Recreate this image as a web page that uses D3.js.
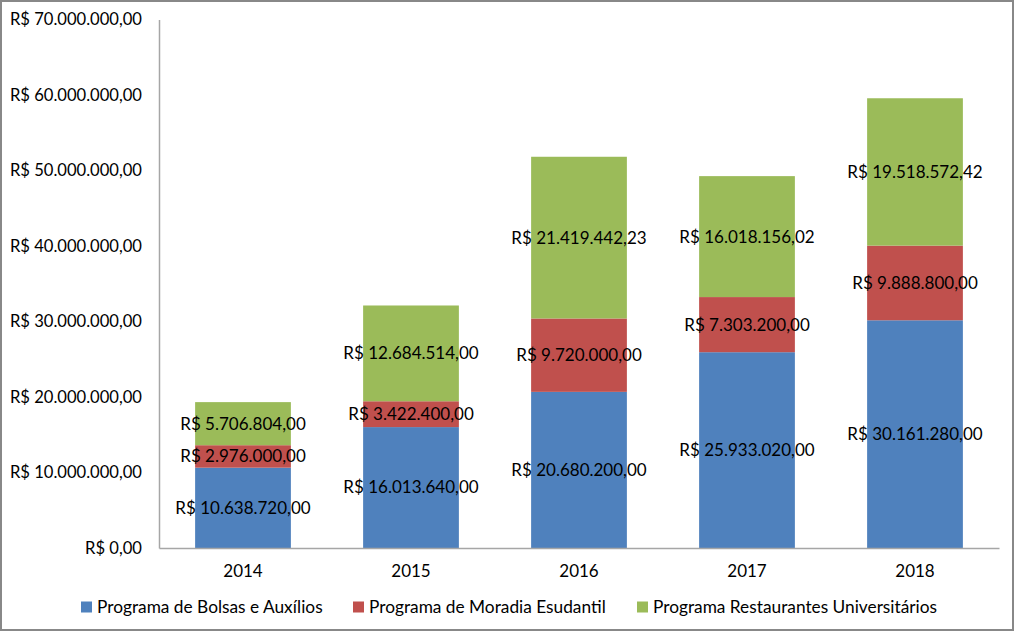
<!DOCTYPE html>
<html>
<head>
<meta charset="utf-8">
<script src="https://cdn.jsdelivr.net/npm/d3@7"></script>
<style>
html,body{margin:0;padding:0;background:#fff;}
svg{display:block;}
text{font-family:Lato,"Open Sans",sans-serif;fill:#000;}
</style>
</head>
<body>
<svg id="chart" width="1014" height="631"></svg>
<script>
const years = ["2014","2015","2016","2017","2018"];
const seriesNames = ["Programa de Bolsas e Auxílios","Programa de Moradia Esudantil","Programa Restaurantes Universitários"];
const bolsas = [10638720.00, 16013640.00, 20680200.00, 25933020.00, 30161280.00];
const moradia = [2976000.00, 3422400.00, 9720000.00, 7303200.00, 9888800.00];
const restaurantes = [5706804.00, 12684514.00, 21419442.23, 16018156.02, 19518572.42];
const yTicks = [0,10000000,20000000,30000000,40000000,50000000,60000000,70000000];
const colors = ["#4F81BD","#C0504D","#9BBB59"];

const fmt = v => {
  const parts = v.toFixed(2).split(".");
  const int = parts[0].replace(/\B(?=(\d{3})+(?!\d))/g, ".");
  return "R$ " + int + "," + parts[1];
};

const svg = d3.select("#chart");
const W = 1014, H = 631;
svg.append("rect").attr("x",1).attr("y",1).attr("width",W-2).attr("height",H-2)
  .attr("fill","#fff").attr("stroke","#888").attr("stroke-width",2);

const pLeft = 159, pRight = 999, pTop = 19.5, pBottom = 548;
const x = d3.scaleBand().domain(years).range([pLeft,pRight]).paddingInner(0.43).paddingOuter(0.215);
const y = d3.scaleLinear().domain([0,70000000]).range([pBottom,pTop]);

const table = years.map((yr,i)=>({year:yr, b:bolsas[i], m:moradia[i], r:restaurantes[i]}));
const stack = d3.stack().keys(["b","m","r"])(table);

const g = svg.append("g");
stack.forEach((layer,li)=>{
  g.selectAll(null).data(layer).enter().append("rect")
    .attr("x",d=>x(d.data.year))
    .attr("width",x.bandwidth())
    .attr("y",d=>y(d[1]))
    .attr("height",d=>y(d[0])-y(d[1]))
    .attr("fill",colors[li]);
});

// axes
const yAxis = d3.axisLeft(y).tickValues(yTicks).tickSize(0).tickPadding(17).tickFormat(fmt);
const ya = svg.append("g").attr("transform",`translate(${pLeft},0)`).call(yAxis);
ya.select(".domain").attr("stroke","#a6a6a6").attr("stroke-width",1.5);
ya.selectAll("text").attr("font-size",16.6).attr("font-family","Lato,sans-serif");

const xAxis = d3.axisBottom(x).tickSize(0).tickPadding(17);
const xa = svg.append("g").attr("transform",`translate(0,${pBottom})`).call(xAxis);
xa.select(".domain").attr("stroke","#a6a6a6").attr("stroke-width",1.5);
xa.selectAll("text").attr("font-size",17).attr("font-family","Lato,sans-serif");

// labels
stack.forEach((layer,li)=>{
  g.selectAll(null).data(layer).enter().append("text")
    .attr("x",d=>x(d.data.year)+x.bandwidth()/2)
    .attr("y",d=>(y(d[0])+y(d[1]))/2)
    .attr("dy","0.35em")
    .attr("text-anchor","middle")
    .attr("font-size",17)
    .text(d=>fmt(d[1]-d[0]));
});

// legend
const legendX = [81, 353, 637];
const lg = svg.append("g");
seriesNames.forEach((n,i)=>{
  lg.append("rect").attr("x",legendX[i]).attr("y",601.5).attr("width",11).attr("height",11).attr("fill",colors[i]);
  lg.append("text").attr("x",legendX[i]+16).attr("y",612.5).attr("font-size",17.3).text(n);
});
</script>
</body>
</html>
